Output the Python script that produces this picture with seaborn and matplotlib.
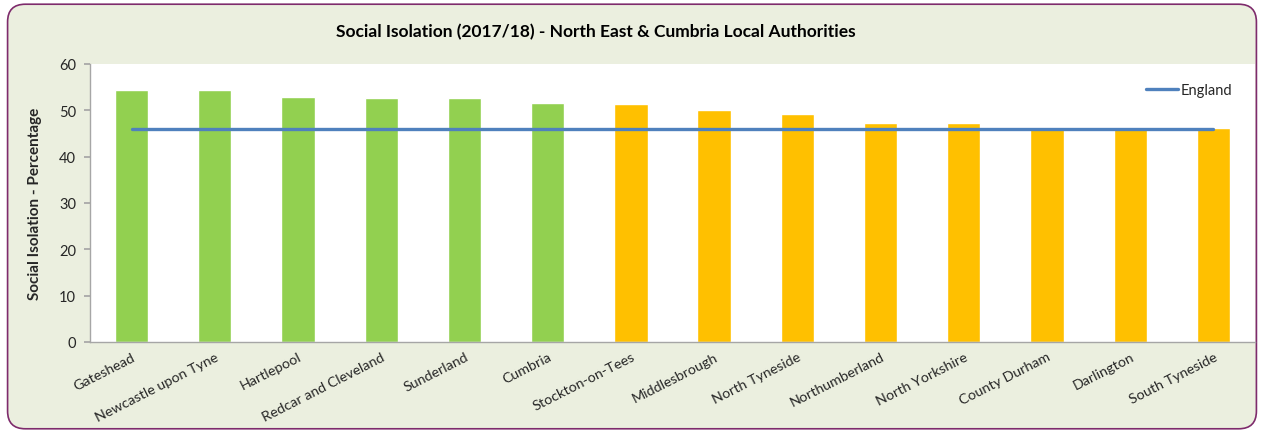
import matplotlib
matplotlib.use("Agg")
import matplotlib.pyplot as plt
from matplotlib.patches import FancyBboxPatch
import seaborn as sns
import pandas as pd

# Social isolation by local authority, 2017/18
authorities = ["Gateshead", "Newcastle upon Tyne", "Hartlepool", "Redcar and Cleveland",
               "Sunderland", "Cumbria", "Stockton-on-Tees", "Middlesbrough", "North Tyneside",
               "Northumberland", "North Yorkshire", "County Durham", "Darlington", "South Tyneside"]
percentages = [54.4, 54.3, 52.9, 52.7, 52.6, 51.5, 51.4, 50.1, 49.3, 47.3, 47.2, 46.1, 46.1, 46.2]
band = ["above", "above", "above", "above", "above", "above", "below", "below", "below",
        "below", "below", "below", "below", "below"]
england_value = 46.0
y_ticks = [0, 10, 20, 30, 40, 50, 60]

sns.set_theme(style="white")
plt.rcParams["font.family"] = ["Lato", "DejaVu Sans"]

df = pd.DataFrame({"authority": authorities, "pct": percentages, "band": band})

bg = "#EBEFDF"
fig = plt.figure(figsize=(12.64, 4.35), dpi=100, facecolor="white")
# rounded chart-area panel, kept behind the axes
panel = FancyBboxPatch((0.006, 0.012), 0.988, 0.976,
                       boxstyle="round,pad=0,rounding_size=0.014",
                       transform=fig.transFigure, facecolor=bg,
                       edgecolor="#7E2B6C", linewidth=1.2, mutation_aspect=1264 / 435,
                       zorder=-10)
fig.patches.append(panel)

ax = fig.add_axes([90 / 1264, 1 - 343 / 435, (1255 - 90) / 1264, (343 - 65) / 435])
ax.set_zorder(1)
ax.set_facecolor("white")

sns.barplot(data=df, x="authority", y="pct", hue="band",
            palette={"above": "#92D050", "below": "#FFC000"},
            dodge=False, width=0.4, legend=False, ax=ax, saturation=1)

sns.lineplot(x=list(range(len(authorities))), y=[england_value] * len(authorities),
             color="#4F81BD", linewidth=2.4, ax=ax, label="England")

ax.set_ylim(0, 60)
ax.set_xlim(-0.5, len(authorities) - 0.5)
ax.set_yticks(y_ticks)
ax.set_yticklabels([str(t) for t in y_ticks], fontsize=10.5)
ax.set_xticks(range(len(authorities)))
ax.set_xticklabels(authorities, rotation=27, ha="right", rotation_mode="anchor", fontsize=10.3)
ax.tick_params(axis="x", length=0, pad=6)
ax.tick_params(axis="y", length=4, color="#A6A6A6", direction="out", left=True, pad=6)
for s in ["top", "right"]:
    ax.spines[s].set_visible(False)
for s in ["left", "bottom"]:
    ax.spines[s].set_color("#A6A6A6")
    ax.spines[s].set_linewidth(1.0)

ax.set_xlabel("")
ax.set_ylabel("Social Isolation - Percentage", fontsize=11, fontweight="bold", labelpad=12)

leg = ax.legend(loc="upper right", frameon=False, fontsize=10.5, handlelength=2.2,
                handletextpad=0.2, bbox_to_anchor=(0.992, 0.98))

fig.text(596 / 1264, 1 - 32 / 435,
         "Social Isolation (2017/18) - North East & Cumbria Local Authorities",
         ha="center", va="center", fontsize=12.5, fontweight="bold", color="black")

fig.savefig("out.png", dpi=100, facecolor="white")
